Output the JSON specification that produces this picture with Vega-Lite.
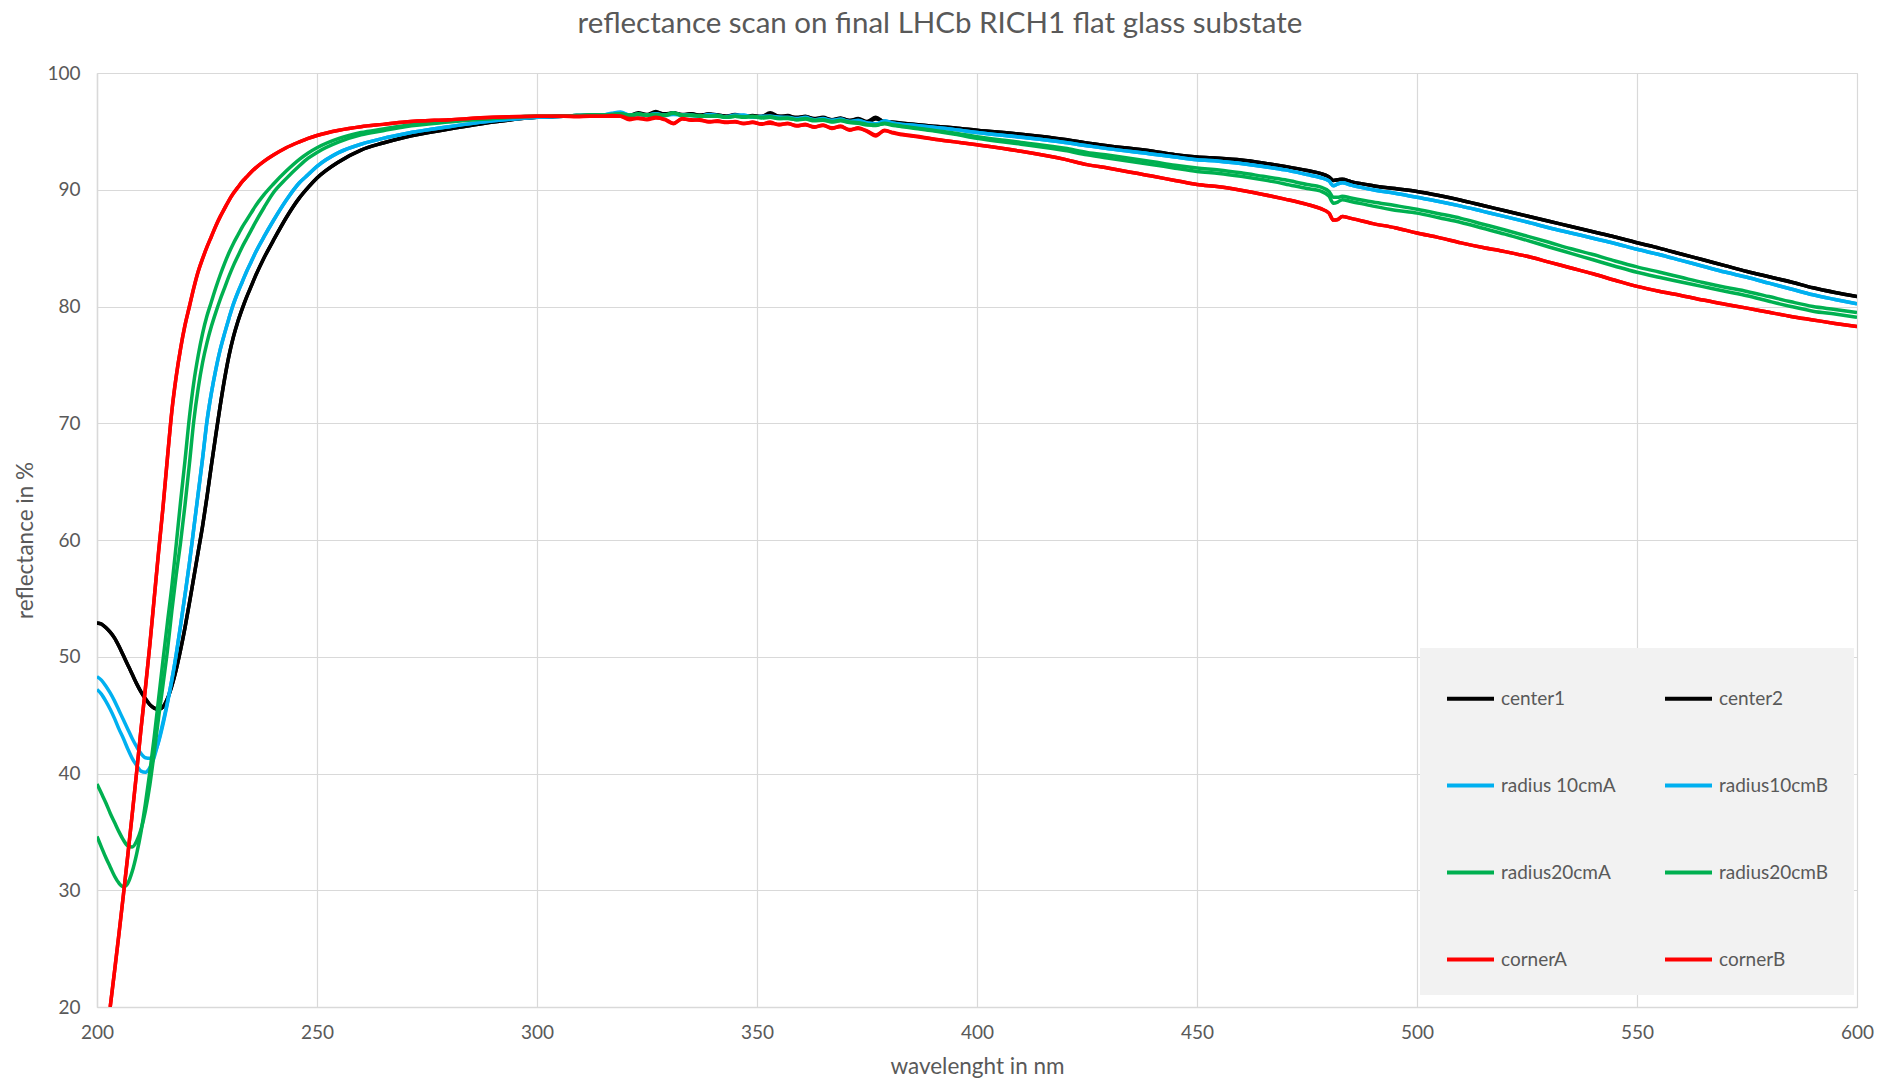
{
  "$schema": "https://vega.github.io/schema/vega-lite/v6.json",
  "autosize": "none",
  "width": 1760,
  "height": 934,
  "padding": {"left": 97, "top": 73, "right": 20, "bottom": 79},
  "background": "#ffffff",
  "title": {
    "text": "reflectance scan on final LHCb RICH1 flat glass substate",
    "font": "Lato",
    "fontSize": 29.5,
    "fontWeight": "normal",
    "color": "#595959",
    "anchor": "middle",
    "dx": -37,
    "offset": 25
  },
  "data": {
    "values": [
      {"x":200,"center1":52.9,"center2":52.9,"radius 10cmA":48.3,"radius10cmB":47.2,"radius20cmA":34.6,"radius20cmB":39.1},
      {"x":201,"center1":52.8,"center2":52.8,"radius 10cmA":48.0,"radius10cmB":46.8,"radius20cmA":33.7,"radius20cmB":38.3},
      {"x":202,"center1":52.5,"center2":52.5,"radius 10cmA":47.5,"radius10cmB":46.2,"radius20cmA":32.8,"radius20cmB":37.5},
      {"x":203,"center1":52.1,"center2":52.1,"radius 10cmA":46.9,"radius10cmB":45.5,"radius20cmA":32.0,"radius20cmB":36.6,"cornerA":20.0,"cornerB":20.0},
      {"x":204,"center1":51.6,"center2":51.6,"radius 10cmA":46.2,"radius10cmB":44.7,"radius20cmA":31.2,"radius20cmB":35.8,"cornerA":23.1,"cornerB":23.1},
      {"x":205,"center1":50.9,"center2":50.9,"radius 10cmA":45.4,"radius10cmB":43.8,"radius20cmA":30.6,"radius20cmB":35.0,"cornerA":26.3,"cornerB":26.3},
      {"x":206,"center1":50.1,"center2":50.1,"radius 10cmA":44.6,"radius10cmB":43.0,"radius20cmA":30.3,"radius20cmB":34.3,"cornerA":29.6,"cornerB":29.6},
      {"x":207,"center1":49.3,"center2":49.3,"radius 10cmA":43.8,"radius10cmB":42.1,"radius20cmA":30.6,"radius20cmB":33.8,"cornerA":33.0,"cornerB":33.0},
      {"x":208,"center1":48.5,"center2":48.5,"radius 10cmA":43.0,"radius10cmB":41.3,"radius20cmA":31.6,"radius20cmB":33.7,"cornerA":36.5,"cornerB":36.5},
      {"x":209,"center1":47.7,"center2":47.7,"radius 10cmA":42.3,"radius10cmB":40.7,"radius20cmA":33.1,"radius20cmB":34.2,"cornerA":40.1,"cornerB":40.1},
      {"x":210,"center1":47.0,"center2":47.0,"radius 10cmA":41.7,"radius10cmB":40.2,"radius20cmA":35.0,"radius20cmB":35.2,"cornerA":43.8,"cornerB":43.8},
      {"x":211,"center1":46.4,"center2":46.4,"radius 10cmA":41.35,"radius10cmB":40.1,"radius20cmA":37.4,"radius20cmB":36.8,"cornerA":47.3,"cornerB":47.3},
      {"x":212,"center1":45.9,"center2":45.9,"radius 10cmA":41.3,"radius10cmB":40.5,"radius20cmA":40.1,"radius20cmB":39.0,"cornerA":51.0,"cornerB":51.0},
      {"x":213,"center1":45.6,"center2":45.6,"radius 10cmA":41.7,"radius10cmB":41.4,"radius20cmA":43.1,"radius20cmB":41.8,"cornerA":55.0,"cornerB":55.0},
      {"x":214,"center1":45.5,"center2":45.5,"radius 10cmA":42.7,"radius10cmB":42.8,"radius20cmA":46.4,"radius20cmB":44.8,"cornerA":59.0,"cornerB":59.0},
      {"x":215,"center1":45.7,"center2":45.7,"radius 10cmA":44.2,"radius10cmB":44.4,"radius20cmA":49.7,"radius20cmB":47.6,"cornerA":62.8,"cornerB":62.8},
      {"x":216,"center1":46.4,"center2":46.4,"radius 10cmA":46.0,"radius10cmB":46.1,"radius20cmA":52.9,"radius20cmB":50.5,"cornerA":67.0,"cornerB":67.0},
      {"x":217,"center1":47.5,"center2":47.5,"radius 10cmA":48.0,"radius10cmB":48.0,"radius20cmA":56.0,"radius20cmB":53.9,"cornerA":71.0,"cornerB":71.0},
      {"x":218,"center1":48.9,"center2":48.9,"radius 10cmA":50.2,"radius10cmB":50.2,"radius20cmA":59.6,"radius20cmB":57.0,"cornerA":74.0,"cornerB":74.0},
      {"x":219,"center1":50.6,"center2":50.6,"radius 10cmA":52.7,"radius10cmB":52.7,"radius20cmA":63.3,"radius20cmB":59.8,"cornerA":76.4,"cornerB":76.4},
      {"x":220,"center1":52.5,"center2":52.5,"radius 10cmA":55.3,"radius10cmB":55.3,"radius20cmA":66.8,"radius20cmB":63.0,"cornerA":78.4,"cornerB":78.4},
      {"x":221,"center1":54.6,"center2":54.6,"radius 10cmA":58.0,"radius10cmB":58.0,"radius20cmA":70.5,"radius20cmB":66.5,"cornerA":80.0,"cornerB":80.0},
      {"x":222,"center1":56.8,"center2":56.8,"radius 10cmA":61.0,"radius10cmB":61.0,"radius20cmA":73.5,"radius20cmB":70.2,"cornerA":81.6,"cornerB":81.6},
      {"x":223,"center1":59.0,"center2":59.0,"radius 10cmA":64.0,"radius10cmB":64.0,"radius20cmA":75.8,"radius20cmB":73.0,"cornerA":83.0,"cornerB":83.0},
      {"x":224,"center1":61.2,"center2":61.2,"radius 10cmA":67.0,"radius10cmB":67.0,"radius20cmA":77.7,"radius20cmB":75.2,"cornerA":84.1,"cornerB":84.1},
      {"x":225,"center1":63.7,"center2":63.7,"radius 10cmA":70.2,"radius10cmB":70.2,"radius20cmA":79.2,"radius20cmB":76.9,"cornerA":85.1,"cornerB":85.1},
      {"x":226,"center1":66.4,"center2":66.4,"radius 10cmA":72.6,"radius10cmB":72.6,"radius20cmA":80.4,"radius20cmB":78.3,"cornerA":86.0,"cornerB":86.0},
      {"x":227,"center1":69.0,"center2":69.0,"radius 10cmA":74.6,"radius10cmB":74.6,"radius20cmA":81.6,"radius20cmB":79.5,"cornerA":86.9,"cornerB":86.9},
      {"x":228,"center1":71.5,"center2":71.5,"radius 10cmA":76.3,"radius10cmB":76.3,"radius20cmA":82.7,"radius20cmB":80.6,"cornerA":87.7,"cornerB":87.7},
      {"x":229,"center1":73.8,"center2":73.8,"radius 10cmA":77.7,"radius10cmB":77.7,"radius20cmA":83.7,"radius20cmB":81.6,"cornerA":88.4,"cornerB":88.4},
      {"x":230,"center1":75.8,"center2":75.8,"radius 10cmA":79.0,"radius10cmB":79.0,"radius20cmA":84.6,"radius20cmB":82.6,"cornerA":89.1,"cornerB":89.1},
      {"x":231,"center1":77.4,"center2":77.4,"radius 10cmA":80.2,"radius10cmB":80.2,"radius20cmA":85.4,"radius20cmB":83.5,"cornerA":89.7,"cornerB":89.7},
      {"x":232,"center1":78.7,"center2":78.7,"radius 10cmA":81.2,"radius10cmB":81.2,"radius20cmA":86.1,"radius20cmB":84.3,"cornerA":90.2,"cornerB":90.2},
      {"x":233,"center1":79.8,"center2":79.8,"radius 10cmA":82.1,"radius10cmB":82.1,"radius20cmA":86.8,"radius20cmB":85.1,"cornerA":90.7,"cornerB":90.7},
      {"x":234,"center1":80.8,"center2":80.8,"radius 10cmA":83.0,"radius10cmB":83.0,"radius20cmA":87.4,"radius20cmB":85.8,"cornerA":91.1,"cornerB":91.1},
      {"x":235,"center1":81.7,"center2":81.7,"radius 10cmA":83.8,"radius10cmB":83.8,"radius20cmA":88.0,"radius20cmB":86.5,"cornerA":91.5,"cornerB":91.5},
      {"x":236,"center1":82.6,"center2":82.6,"radius 10cmA":84.6,"radius10cmB":84.6,"radius20cmA":88.6,"radius20cmB":87.2,"cornerA":91.85,"cornerB":91.85},
      {"x":238,"center1":84.2,"center2":84.2,"radius 10cmA":86.0,"radius10cmB":86.0,"radius20cmA":89.6,"radius20cmB":88.5,"cornerA":92.45,"cornerB":92.45},
      {"x":240,"center1":85.6,"center2":85.6,"radius 10cmA":87.3,"radius10cmB":87.3,"radius20cmA":90.45,"radius20cmB":89.7,"cornerA":92.95,"cornerB":92.95},
      {"x":243,"center1":87.6,"center2":87.6,"radius 10cmA":89.1,"radius10cmB":89.1,"radius20cmA":91.6,"radius20cmB":90.95,"cornerA":93.6,"cornerB":93.6},
      {"x":246,"center1":89.3,"center2":89.3,"radius 10cmA":90.6,"radius10cmB":90.6,"radius20cmA":92.6,"radius20cmB":92.05,"cornerA":94.1,"cornerB":94.1},
      {"x":248,"center1":90.2,"center2":90.2,"radius 10cmA":91.3,"radius10cmB":91.3,"radius20cmA":93.15,"radius20cmB":92.7,"cornerA":94.4,"cornerB":94.4},
      {"x":250,"center1":91.0,"center2":91.0,"radius 10cmA":92.0,"radius10cmB":92.0,"radius20cmA":93.6,"radius20cmB":93.2,"cornerA":94.65,"cornerB":94.65},
      {"x":255,"center1":92.4,"center2":92.4,"radius 10cmA":93.2,"radius10cmB":93.2,"radius20cmA":94.4,"radius20cmB":94.1,"cornerA":95.1,"cornerB":95.1},
      {"x":260,"center1":93.4,"center2":93.4,"radius 10cmA":93.9,"radius10cmB":93.9,"radius20cmA":94.9,"radius20cmB":94.7,"cornerA":95.4,"cornerB":95.4},
      {"x":265,"center1":94.0,"center2":94.0,"radius 10cmA":94.4,"radius10cmB":94.4,"radius20cmA":95.2,"radius20cmB":95.05,"cornerA":95.6,"cornerB":95.6},
      {"x":270,"center1":94.5,"center2":94.5,"radius 10cmA":94.8,"radius10cmB":94.8,"radius20cmA":95.5,"radius20cmB":95.4,"cornerA":95.8,"cornerB":95.8},
      {"x":280,"center1":95.2,"center2":95.2,"radius 10cmA":95.4,"radius10cmB":95.4,"radius20cmA":95.9,"radius20cmB":95.8,"cornerA":96.0,"cornerB":96.0},
      {"x":290,"center1":95.8,"center2":95.8,"radius 10cmA":95.9,"radius10cmB":95.9,"radius20cmA":96.1,"radius20cmB":96.1,"cornerA":96.2,"cornerB":96.2},
      {"x":300,"center1":96.2,"center2":96.2,"radius 10cmA":96.2,"radius10cmB":96.2,"radius20cmA":96.3,"radius20cmB":96.3,"cornerA":96.3,"cornerB":96.3},
      {"x":303,"center1":96.25,"center2":96.25,"radius 10cmA":96.25,"radius10cmB":96.25,"radius20cmA":96.3,"radius20cmB":96.3,"cornerA":96.3,"cornerB":96.3},
      {"x":306,"center1":96.3,"center2":96.3,"radius 10cmA":96.3,"radius10cmB":96.3,"radius20cmA":96.3,"radius20cmB":96.3,"cornerA":96.3,"cornerB":96.3},
      {"x":309,"center1":96.35,"center2":96.3,"radius 10cmA":96.35,"radius10cmB":96.35,"radius20cmA":96.35,"radius20cmB":96.35,"cornerA":96.25,"cornerB":96.3},
      {"x":312,"center1":96.4,"center2":96.35,"radius 10cmA":96.35,"radius10cmB":96.35,"radius20cmA":96.4,"radius20cmB":96.4,"cornerA":96.3,"cornerB":96.3},
      {"x":315,"center1":96.4,"center2":96.4,"radius 10cmA":96.4,"radius10cmB":96.4,"radius20cmA":96.4,"radius20cmB":96.4,"cornerA":96.3,"cornerB":96.3},
      {"x":317,"center1":96.45,"center2":96.4,"radius 10cmA":96.55,"radius10cmB":96.5,"radius20cmA":96.45,"radius20cmB":96.45,"cornerA":96.35,"cornerB":96.3},
      {"x":319,"center1":96.45,"center2":96.5,"radius 10cmA":96.65,"radius10cmB":96.6,"radius20cmA":96.5,"radius20cmB":96.5,"cornerA":96.3,"cornerB":96.3},
      {"x":321,"center1":96.35,"center2":96.3,"radius 10cmA":96.4,"radius10cmB":96.4,"radius20cmA":96.35,"radius20cmB":96.4,"cornerA":96.0,"cornerB":96.1},
      {"x":323,"center1":96.6,"center2":96.5,"radius 10cmA":96.45,"radius10cmB":96.45,"radius20cmA":96.5,"radius20cmB":96.45,"cornerA":96.15,"cornerB":96.1},
      {"x":325,"center1":96.45,"center2":96.4,"radius 10cmA":96.4,"radius10cmB":96.4,"radius20cmA":96.4,"radius20cmB":96.4,"cornerA":96.05,"cornerB":96.0},
      {"x":327,"center1":96.7,"center2":96.6,"radius 10cmA":96.5,"radius10cmB":96.5,"radius20cmA":96.45,"radius20cmB":96.4,"cornerA":96.2,"cornerB":96.15},
      {"x":329,"center1":96.45,"center2":96.5,"radius 10cmA":96.35,"radius10cmB":96.4,"radius20cmA":96.4,"radius20cmB":96.35,"cornerA":96.0,"cornerB":96.05},
      {"x":331,"center1":96.6,"center2":96.55,"radius 10cmA":96.5,"radius10cmB":96.45,"radius20cmA":96.6,"radius20cmB":96.55,"cornerA":95.65,"cornerB":95.7},
      {"x":333,"center1":96.45,"center2":96.4,"radius 10cmA":96.4,"radius10cmB":96.4,"radius20cmA":96.35,"radius20cmB":96.4,"cornerA":96.1,"cornerB":96.05},
      {"x":335,"center1":96.5,"center2":96.5,"radius 10cmA":96.4,"radius10cmB":96.35,"radius20cmA":96.4,"radius20cmB":96.35,"cornerA":95.95,"cornerB":96.0},
      {"x":337,"center1":96.35,"center2":96.4,"radius 10cmA":96.3,"radius10cmB":96.3,"radius20cmA":96.35,"radius20cmB":96.3,"cornerA":96.0,"cornerB":95.95},
      {"x":339,"center1":96.5,"center2":96.45,"radius 10cmA":96.45,"radius10cmB":96.4,"radius20cmA":96.3,"radius20cmB":96.3,"cornerA":95.8,"cornerB":95.85},
      {"x":341,"center1":96.4,"center2":96.4,"radius 10cmA":96.35,"radius10cmB":96.35,"radius20cmA":96.35,"radius20cmB":96.3,"cornerA":95.9,"cornerB":95.85},
      {"x":343,"center1":96.3,"center2":96.3,"radius 10cmA":96.2,"radius10cmB":96.25,"radius20cmA":96.2,"radius20cmB":96.2,"cornerA":95.75,"cornerB":95.8},
      {"x":345,"center1":96.45,"center2":96.4,"radius 10cmA":96.35,"radius10cmB":96.4,"radius20cmA":96.3,"radius20cmB":96.3,"cornerA":95.85,"cornerB":95.8},
      {"x":347,"center1":96.3,"center2":96.3,"radius 10cmA":96.4,"radius10cmB":96.35,"radius20cmA":96.25,"radius20cmB":96.2,"cornerA":95.65,"cornerB":95.7},
      {"x":349,"center1":96.35,"center2":96.3,"radius 10cmA":96.2,"radius10cmB":96.25,"radius20cmA":96.3,"radius20cmB":96.25,"cornerA":95.8,"cornerB":95.75},
      {"x":351,"center1":96.25,"center2":96.3,"radius 10cmA":96.3,"radius10cmB":96.25,"radius20cmA":96.2,"radius20cmB":96.15,"cornerA":95.6,"cornerB":95.65},
      {"x":353,"center1":96.6,"center2":96.45,"radius 10cmA":96.3,"radius10cmB":96.3,"radius20cmA":96.25,"radius20cmB":96.2,"cornerA":95.8,"cornerB":95.7},
      {"x":355,"center1":96.3,"center2":96.3,"radius 10cmA":96.2,"radius10cmB":96.2,"radius20cmA":96.1,"radius20cmB":96.1,"cornerA":95.55,"cornerB":95.6},
      {"x":357,"center1":96.35,"center2":96.25,"radius 10cmA":96.15,"radius10cmB":96.2,"radius20cmA":96.15,"radius20cmB":96.1,"cornerA":95.7,"cornerB":95.65},
      {"x":359,"center1":96.15,"center2":96.2,"radius 10cmA":96.05,"radius10cmB":96.1,"radius20cmA":96.0,"radius20cmB":96.0,"cornerA":95.45,"cornerB":95.5},
      {"x":361,"center1":96.3,"center2":96.25,"radius 10cmA":96.2,"radius10cmB":96.15,"radius20cmA":96.1,"radius20cmB":96.05,"cornerA":95.6,"cornerB":95.55},
      {"x":363,"center1":96.05,"center2":96.1,"radius 10cmA":96.0,"radius10cmB":96.0,"radius20cmA":95.95,"radius20cmB":95.9,"cornerA":95.35,"cornerB":95.4},
      {"x":365,"center1":96.2,"center2":96.15,"radius 10cmA":96.1,"radius10cmB":96.05,"radius20cmA":96.0,"radius20cmB":95.95,"cornerA":95.55,"cornerB":95.5},
      {"x":367,"center1":96.0,"center2":96.0,"radius 10cmA":95.9,"radius10cmB":95.95,"radius20cmA":95.85,"radius20cmB":95.8,"cornerA":95.25,"cornerB":95.3},
      {"x":369,"center1":96.15,"center2":96.1,"radius 10cmA":96.05,"radius10cmB":96.0,"radius20cmA":95.95,"radius20cmB":95.9,"cornerA":95.45,"cornerB":95.4},
      {"x":371,"center1":95.9,"center2":95.95,"radius 10cmA":95.85,"radius10cmB":95.85,"radius20cmA":95.8,"radius20cmB":95.75,"cornerA":95.1,"cornerB":95.15},
      {"x":373,"center1":96.1,"center2":96.0,"radius 10cmA":95.95,"radius10cmB":95.9,"radius20cmA":95.75,"radius20cmB":95.7,"cornerA":95.3,"cornerB":95.25},
      {"x":375,"center1":95.85,"center2":95.8,"radius 10cmA":95.7,"radius10cmB":95.75,"radius20cmA":95.6,"radius20cmB":95.55,"cornerA":95.0,"cornerB":95.05},
      {"x":377,"center1":96.2,"center2":96.05,"radius 10cmA":95.6,"radius10cmB":95.65,"radius20cmA":95.5,"radius20cmB":95.55,"cornerA":94.6,"cornerB":94.7},
      {"x":379,"center1":95.8,"center2":95.85,"radius 10cmA":95.9,"radius10cmB":95.85,"radius20cmA":95.7,"radius20cmB":95.65,"cornerA":95.1,"cornerB":95.05},
      {"x":381,"center1":95.8,"center2":95.75,"radius 10cmA":95.7,"radius10cmB":95.7,"radius20cmA":95.55,"radius20cmB":95.5,"cornerA":94.85,"cornerB":94.9},
      {"x":383,"center1":95.7,"center2":95.7,"radius 10cmA":95.6,"radius10cmB":95.6,"radius20cmA":95.45,"radius20cmB":95.4,"cornerA":94.7,"cornerB":94.75},
      {"x":386,"center1":95.6,"center2":95.6,"radius 10cmA":95.5,"radius10cmB":95.5,"radius20cmA":95.3,"radius20cmB":95.25,"cornerA":94.55,"cornerB":94.6},
      {"x":390,"center1":95.45,"center2":95.45,"radius 10cmA":95.35,"radius10cmB":95.35,"radius20cmA":95.1,"radius20cmB":95.05,"cornerA":94.35,"cornerB":94.35},
      {"x":395,"center1":95.3,"center2":95.3,"radius 10cmA":95.15,"radius10cmB":95.15,"radius20cmA":94.85,"radius20cmB":94.75,"cornerA":94.1,"cornerB":94.1},
      {"x":400,"center1":95.1,"center2":95.1,"radius 10cmA":94.9,"radius10cmB":94.9,"radius20cmA":94.55,"radius20cmB":94.4,"cornerA":93.85,"cornerB":93.85},
      {"x":410,"center1":94.75,"center2":94.75,"radius 10cmA":94.5,"radius10cmB":94.5,"radius20cmA":94.05,"radius20cmB":93.9,"cornerA":93.3,"cornerB":93.3},
      {"x":420,"center1":94.3,"center2":94.3,"radius 10cmA":94.05,"radius10cmB":94.05,"radius20cmA":93.55,"radius20cmB":93.35,"cornerA":92.6,"cornerB":92.6},
      {"x":425,"center1":94.0,"center2":94.0,"radius 10cmA":93.77,"radius10cmB":93.77,"radius20cmA":93.2,"radius20cmB":93.0,"cornerA":92.15,"cornerB":92.15},
      {"x":430,"center1":93.75,"center2":93.75,"radius 10cmA":93.5,"radius10cmB":93.5,"radius20cmA":92.95,"radius20cmB":92.7,"cornerA":91.85,"cornerB":91.85},
      {"x":440,"center1":93.3,"center2":93.3,"radius 10cmA":93.05,"radius10cmB":93.05,"radius20cmA":92.4,"radius20cmB":92.15,"cornerA":91.15,"cornerB":91.15},
      {"x":445,"center1":93.0,"center2":93.0,"radius 10cmA":92.8,"radius10cmB":92.8,"radius20cmA":92.1,"radius20cmB":91.85,"cornerA":90.8,"cornerB":90.8},
      {"x":450,"center1":92.8,"center2":92.8,"radius 10cmA":92.57,"radius10cmB":92.57,"radius20cmA":91.86,"radius20cmB":91.57,"cornerA":90.45,"cornerB":90.45},
      {"x":455,"center1":92.7,"center2":92.7,"radius 10cmA":92.45,"radius10cmB":92.45,"radius20cmA":91.7,"radius20cmB":91.4,"cornerA":90.25,"cornerB":90.25},
      {"x":460,"center1":92.55,"center2":92.55,"radius 10cmA":92.25,"radius10cmB":92.25,"radius20cmA":91.45,"radius20cmB":91.15,"cornerA":89.95,"cornerB":89.95},
      {"x":465,"center1":92.3,"center2":92.3,"radius 10cmA":92.0,"radius10cmB":92.0,"radius20cmA":91.15,"radius20cmB":90.85,"cornerA":89.6,"cornerB":89.6},
      {"x":470,"center1":92.0,"center2":92.0,"radius 10cmA":91.7,"radius10cmB":91.7,"radius20cmA":90.85,"radius20cmB":90.5,"cornerA":89.2,"cornerB":89.2},
      {"x":475,"center1":91.65,"center2":91.65,"radius 10cmA":91.3,"radius10cmB":91.3,"radius20cmA":90.45,"radius20cmB":90.1,"cornerA":88.75,"cornerB":88.75},
      {"x":478,"center1":91.4,"center2":91.4,"radius 10cmA":91.05,"radius10cmB":91.05,"radius20cmA":90.25,"radius20cmB":89.9,"cornerA":88.4,"cornerB":88.4},
      {"x":480,"center1":91.1,"center2":91.1,"radius 10cmA":90.75,"radius10cmB":90.75,"radius20cmA":89.85,"radius20cmB":89.45,"cornerA":88.0,"cornerB":88.0},
      {"x":481,"center1":90.8,"center2":90.8,"radius 10cmA":90.35,"radius10cmB":90.35,"radius20cmA":89.35,"radius20cmB":88.85,"cornerA":87.4,"cornerB":87.4},
      {"x":482,"center1":90.85,"center2":90.85,"radius 10cmA":90.5,"radius10cmB":90.5,"radius20cmA":89.35,"radius20cmB":88.95,"cornerA":87.45,"cornerB":87.45},
      {"x":483,"center1":90.9,"center2":90.9,"radius 10cmA":90.6,"radius10cmB":90.6,"radius20cmA":89.45,"radius20cmB":89.15,"cornerA":87.7,"cornerB":87.7},
      {"x":485,"center1":90.7,"center2":90.7,"radius 10cmA":90.4,"radius10cmB":90.4,"radius20cmA":89.3,"radius20cmB":89.0,"cornerA":87.55,"cornerB":87.55},
      {"x":490,"center1":90.35,"center2":90.35,"radius 10cmA":90.0,"radius10cmB":90.0,"radius20cmA":88.95,"radius20cmB":88.6,"cornerA":87.1,"cornerB":87.1},
      {"x":495,"center1":90.1,"center2":90.1,"radius 10cmA":89.7,"radius10cmB":89.7,"radius20cmA":88.65,"radius20cmB":88.25,"cornerA":86.75,"cornerB":86.75},
      {"x":500,"center1":89.85,"center2":89.85,"radius 10cmA":89.35,"radius10cmB":89.35,"radius20cmA":88.33,"radius20cmB":88.0,"cornerA":86.3,"cornerB":86.3},
      {"x":505,"center1":89.5,"center2":89.5,"radius 10cmA":89.0,"radius10cmB":89.0,"radius20cmA":87.95,"radius20cmB":87.6,"cornerA":85.9,"cornerB":85.9},
      {"x":510,"center1":89.1,"center2":89.1,"radius 10cmA":88.6,"radius10cmB":88.6,"radius20cmA":87.55,"radius20cmB":87.2,"cornerA":85.45,"cornerB":85.45},
      {"x":515,"center1":88.65,"center2":88.65,"radius 10cmA":88.15,"radius10cmB":88.15,"radius20cmA":87.05,"radius20cmB":86.7,"cornerA":85.05,"cornerB":85.05},
      {"x":520,"center1":88.2,"center2":88.2,"radius 10cmA":87.7,"radius10cmB":87.7,"radius20cmA":86.55,"radius20cmB":86.2,"cornerA":84.7,"cornerB":84.7},
      {"x":525,"center1":87.75,"center2":87.75,"radius 10cmA":87.24,"radius10cmB":87.24,"radius20cmA":86.03,"radius20cmB":85.66,"cornerA":84.3,"cornerB":84.3},
      {"x":530,"center1":87.3,"center2":87.3,"radius 10cmA":86.75,"radius10cmB":86.75,"radius20cmA":85.5,"radius20cmB":85.1,"cornerA":83.8,"cornerB":83.8},
      {"x":535,"center1":86.85,"center2":86.85,"radius 10cmA":86.3,"radius10cmB":86.3,"radius20cmA":84.95,"radius20cmB":84.55,"cornerA":83.3,"cornerB":83.3},
      {"x":540,"center1":86.4,"center2":86.4,"radius 10cmA":85.85,"radius10cmB":85.85,"radius20cmA":84.45,"radius20cmB":84.0,"cornerA":82.8,"cornerB":82.8},
      {"x":545,"center1":85.95,"center2":85.95,"radius 10cmA":85.4,"radius10cmB":85.4,"radius20cmA":83.9,"radius20cmB":83.45,"cornerA":82.25,"cornerB":82.25},
      {"x":550,"center1":85.46,"center2":85.46,"radius 10cmA":84.9,"radius10cmB":84.9,"radius20cmA":83.39,"radius20cmB":82.93,"cornerA":81.72,"cornerB":81.72},
      {"x":555,"center1":85.0,"center2":85.0,"radius 10cmA":84.45,"radius10cmB":84.45,"radius20cmA":82.95,"radius20cmB":82.5,"cornerA":81.3,"cornerB":81.3},
      {"x":560,"center1":84.5,"center2":84.5,"radius 10cmA":83.95,"radius10cmB":83.95,"radius20cmA":82.5,"radius20cmB":82.1,"cornerA":80.95,"cornerB":80.95},
      {"x":565,"center1":84.0,"center2":84.0,"radius 10cmA":83.45,"radius10cmB":83.45,"radius20cmA":82.05,"radius20cmB":81.7,"cornerA":80.55,"cornerB":80.55},
      {"x":570,"center1":83.5,"center2":83.5,"radius 10cmA":82.95,"radius10cmB":82.95,"radius20cmA":81.65,"radius20cmB":81.3,"cornerA":80.2,"cornerB":80.2},
      {"x":575,"center1":83.0,"center2":83.0,"radius 10cmA":82.5,"radius10cmB":82.5,"radius20cmA":81.29,"radius20cmB":80.92,"cornerA":79.86,"cornerB":79.86},
      {"x":580,"center1":82.55,"center2":82.55,"radius 10cmA":82.0,"radius10cmB":82.0,"radius20cmA":80.85,"radius20cmB":80.45,"cornerA":79.5,"cornerB":79.5},
      {"x":585,"center1":82.1,"center2":82.1,"radius 10cmA":81.5,"radius10cmB":81.5,"radius20cmA":80.4,"radius20cmB":80.0,"cornerA":79.15,"cornerB":79.15},
      {"x":590,"center1":81.6,"center2":81.6,"radius 10cmA":81.0,"radius10cmB":81.0,"radius20cmA":80.0,"radius20cmB":79.6,"cornerA":78.85,"cornerB":78.85},
      {"x":595,"center1":81.2,"center2":81.2,"radius 10cmA":80.6,"radius10cmB":80.6,"radius20cmA":79.75,"radius20cmB":79.35,"cornerA":78.55,"cornerB":78.55},
      {"x":600,"center1":80.86,"center2":80.86,"radius 10cmA":80.23,"radius10cmB":80.23,"radius20cmA":79.48,"radius20cmB":79.08,"cornerA":78.28,"cornerB":78.28}
    ]
  },
  "transform": [
    {"fold": ["center1","center2","radius 10cmA","radius10cmB","radius20cmA","radius20cmB","cornerA","cornerB"], "as": ["series","value"]},
    {"filter": "isValid(datum.value)"}
  ],
  "mark": {"type": "line", "interpolate": "monotone", "strokeWidth": 3.5, "clip": true},
  "encoding": {
    "x": {
      "field": "x", "type": "quantitative",
      "scale": {"domain": [200, 600], "nice": false, "zero": false},
      "axis": {
        "title": "wavelenght in nm",
        "values": [200,250,300,350,400,450,500,550,600],
        "grid": true, "gridColor": "#d9d9d9", "gridWidth": 1.2,
        "domain": true, "domainColor": "#d9d9d9", "domainWidth": 1.5,
        "ticks": false, "labelFlush": false,
        "labelFont": "Lato", "labelFontSize": 19, "labelColor": "#595959", "labelPadding": 16,
        "titleFont": "Lato", "titleFontSize": 22.5, "titleFontWeight": "normal", "titleColor": "#595959", "titlePadding": 13
      }
    },
    "y": {
      "field": "value", "type": "quantitative",
      "scale": {"domain": [20, 100], "nice": false, "zero": false},
      "axis": {
        "title": "reflectance in %",
        "values": [20,30,40,50,60,70,80,90,100],
        "grid": true, "gridColor": "#d9d9d9", "gridWidth": 1.2,
        "domain": true, "domainColor": "#d9d9d9", "domainWidth": 1.5,
        "ticks": false, "labelFlush": false,
        "labelFont": "Lato", "labelFontSize": 19, "labelColor": "#595959", "labelPadding": 17,
        "titleFont": "Lato", "titleFontSize": 22.5, "titleFontWeight": "normal", "titleColor": "#595959", "titlePadding": 9
      }
    },
    "color": {
      "field": "series", "type": "nominal",
      "scale": {
        "domain": ["center1","center2","radius 10cmA","radius10cmB","radius20cmA","radius20cmB","cornerA","cornerB"],
        "range": ["#000000","#000000","#00B0F0","#00B0F0","#00B050","#00B050","#FF0000","#FF0000"]
      },
      "legend": {
        "title": null,
        "orient": "none",
        "direction": "horizontal",
        "legendX": 1323,
        "legendY": 575,
        "columns": 2,
        "columnPadding": 41,
        "rowPadding": 51,
        "padding": 25,
        "fillColor": "#f2f2f2",
        "symbolType": "stroke",
        "symbolSize": 2209,
        "symbolStrokeWidth": 4,
        "labelFont": "Lato",
        "labelFontSize": 19,
        "labelColor": "#595959",
        "labelOffset": 5
      }
    }
  }
}
